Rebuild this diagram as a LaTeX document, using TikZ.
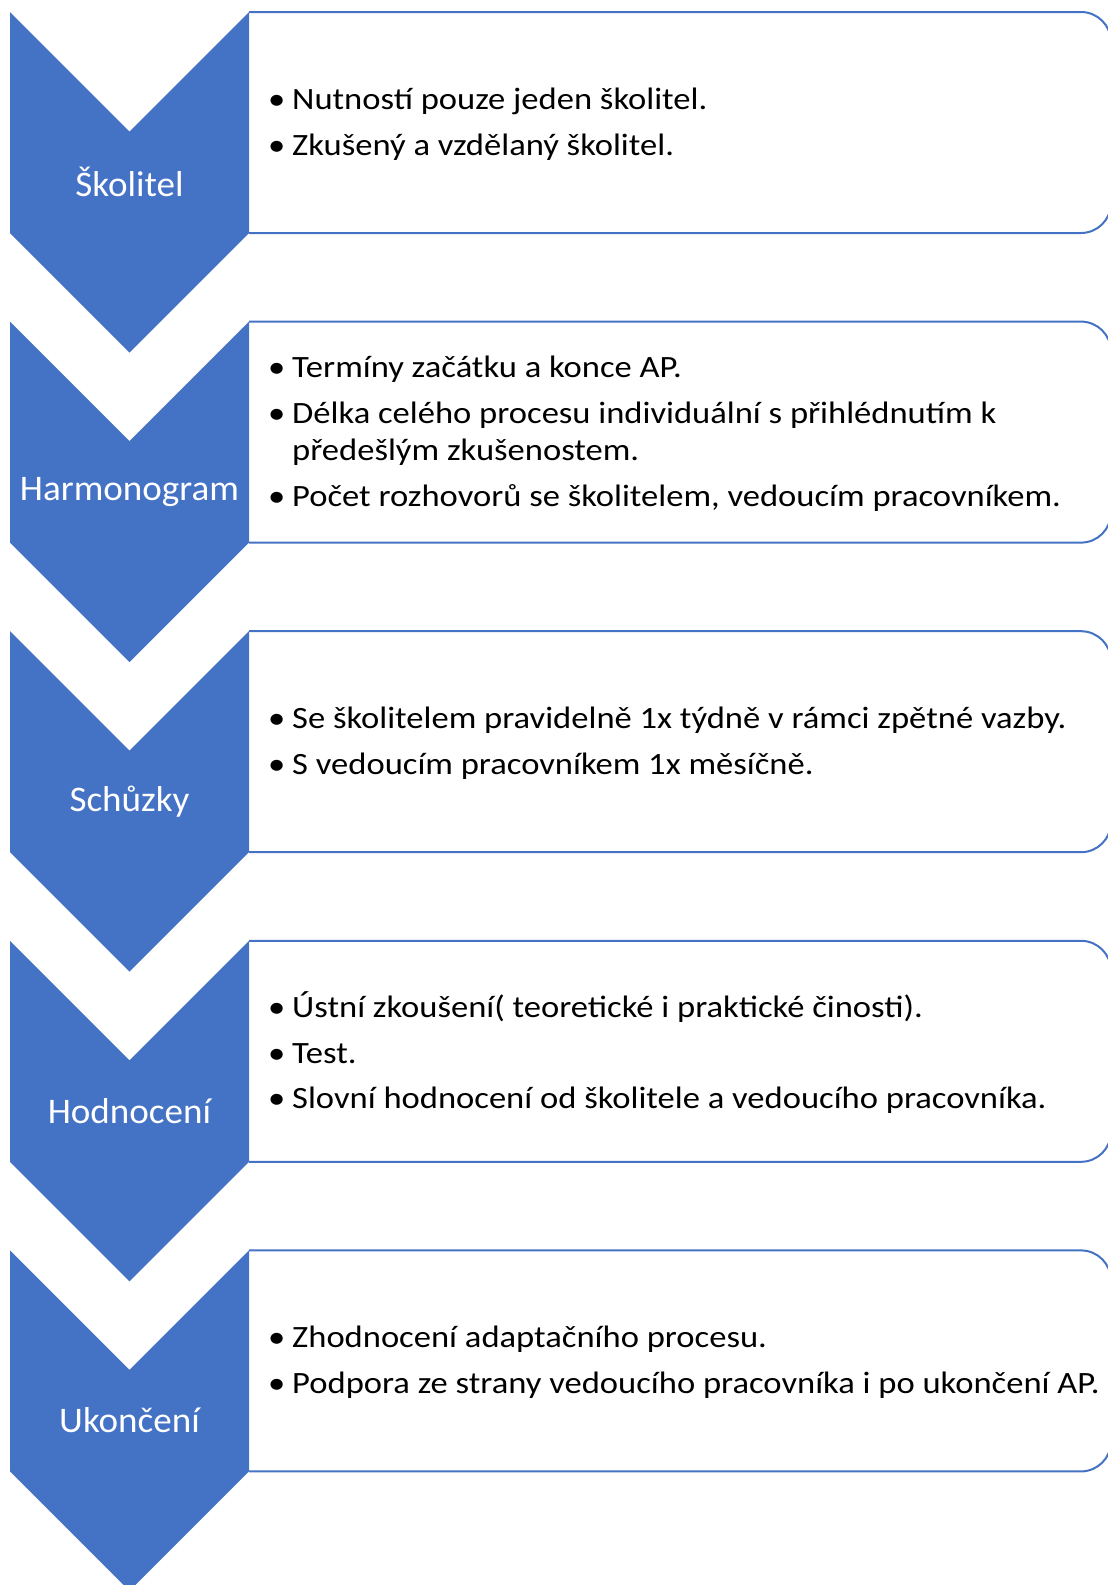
\documentclass[tikz,border=0pt]{standalone}
\usepackage{fontspec}
\setmainfont{Carlito}
\newfontfamily\itemfont[FakeStretch=1.115]{Carlito}
\newfontfamily\labfont[FakeStretch=1.03]{Carlito}
\definecolor{accent}{HTML}{4472C4}
\tikzset{
  chev/.style={fill=accent,draw=none},
  listbox/.style={draw=accent,line width=2pt,rounded corners=30pt},
  lab/.style={text=white,font=\labfont\fontsize{36}{43}\selectfont,inner sep=0pt},
  items/.style={anchor=west,align=left,inner sep=0pt,font=\itemfont\fontsize{31}{37.5}\selectfont}
}
\newcommand{\bul}{\makebox[24pt][l]{•}}
\newcommand{\hang}{\hspace*{24pt}}
\newcommand{\stage}[4]{%
  \draw[listbox] (249,#1) -- (1111,#1) -- (1111,#1+221) -- (249,#1+221);
  \fill[chev] (10,#1) -- (129.5,#1+119.5) -- (249,#1) -- (249,#1+221) -- (129.5,#1+340.5) -- (10,#1+221) -- cycle;
  \node[lab] (#2) at (129.5,#1+170) {#3};
  \node[items] (#2-list) at (268,#1+112) {#4};
}
\begin{document}
\begin{tikzpicture}[x=1pt,y=-1pt]
\useasboundingbox (0,0) rectangle (1108,1585);
\clip (0,0) rectangle (1108,1585);
\stage{12}{s1}{Školitel}{\bul Nutností pouze jeden školitel.\\[8pt]\bul Zkušený a vzdělaný školitel.}
\stage{321.6}{s2}{Harmonogram}{\bul Termíny začátku a konce AP.\\[8pt]\bul Délka celého procesu individuální s přihlédnutím k\\\hang předešlým zkušenostem.\\[8pt]\bul Počet rozhovorů se školitelem, vedoucím pracovníkem.}
\stage{631.2}{s3}{Schůzky}{\bul Se školitelem pravidelně 1x týdně v rámci zpětné vazby.\\[8pt]\bul S vedoucím pracovníkem 1x měsíčně.}
\stage{940.8}{s4}{Hodnocení}{\bul Ústní zkoušení( teoretické i praktické činosti).\\[8pt]\bul Test.\\[8pt]\bul Slovní hodnocení od školitele a vedoucího pracovníka.}
\stage{1250.4}{s5}{Ukončení}{\bul Zhodnocení adaptačního procesu.\\[8pt]\bul Podpora ze strany vedoucího pracovníka i po ukončení AP.}
\end{tikzpicture}
\end{document}
